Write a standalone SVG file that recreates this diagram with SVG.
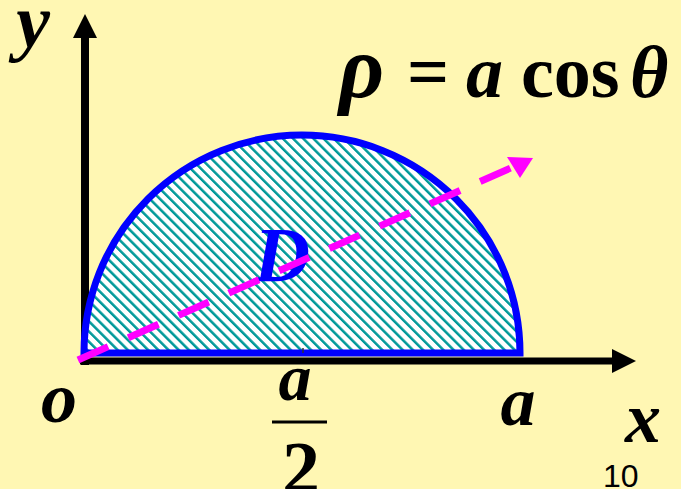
<svg xmlns="http://www.w3.org/2000/svg" width="681" height="489" viewBox="0 0 681 489">
<defs>
<style>
.m{font-family:"Liberation Serif","Times New Roman",serif;font-weight:bold;fill:#000}
.i{font-style:italic}
</style>
<pattern id="hatch" width="7.2" height="7.2" patternUnits="userSpaceOnUse" patternTransform="rotate(-45)">
<rect width="7.2" height="7.2" fill="#fff"/>
<rect width="2.5" height="7.2" fill="#009999"/>
</pattern>
</defs>
<rect width="681" height="489" fill="#FFF7B3"/>
<g id="axes">
<line x1="85" y1="365" x2="85" y2="36" stroke="#000" stroke-width="8"/>
<polygon points="85,14 73,38 97,38" fill="#000"/>
<line x1="80" y1="361" x2="614" y2="361" stroke="#000" stroke-width="7"/>
<polygon points="636,361 612,349 612,373" fill="#000"/>
</g>
<g id="region-D">
<path d="M84 353 A218 218 0 0 1 520 353 Z" fill="url(#hatch)" stroke="#0000FF" stroke-width="7"/>
<line x1="303" y1="348" x2="303" y2="353" stroke="#333" stroke-width="1.5"/>
<text x="282" y="281" class="m i" font-size="78" style="fill:#0000FF" text-anchor="middle">D</text>
</g>
<g id="connectors">
<line x1="78" y1="360" x2="513" y2="167" stroke="#FF00FF" stroke-width="7" stroke-dasharray="33 22"/>
<polygon points="533,158 507,157 520,178" fill="#FF00FF"/>
</g>
<g id="labels">
<text y="97" class="m" font-size="74"><tspan x="339" class="i" font-size="88">ρ</tspan><tspan x="407">=</tspan><tspan x="466" class="i">a</tspan><tspan x="521">cos</tspan><tspan x="630" class="i">θ</tspan></text>
<text x="33" y="47" class="m i" font-size="76" text-anchor="middle">y</text>
<text x="59" y="422" class="m i" font-size="72" text-anchor="middle">o</text>
<text x="295" y="400" class="m i" font-size="66" text-anchor="middle">a</text>
<line x1="272" y1="422" x2="327" y2="422" stroke="#000" stroke-width="3"/>
<text x="301" y="494" class="m" font-size="76" text-anchor="middle">2</text>
<text x="518" y="425" class="m i" font-size="70" text-anchor="middle">a</text>
<text x="643" y="442" class="m i" font-size="72" text-anchor="middle">x</text>
<text x="603" y="487" font-family="Liberation Sans,Arial,sans-serif" font-size="32" fill="#000">10</text>
</g>
</svg>
